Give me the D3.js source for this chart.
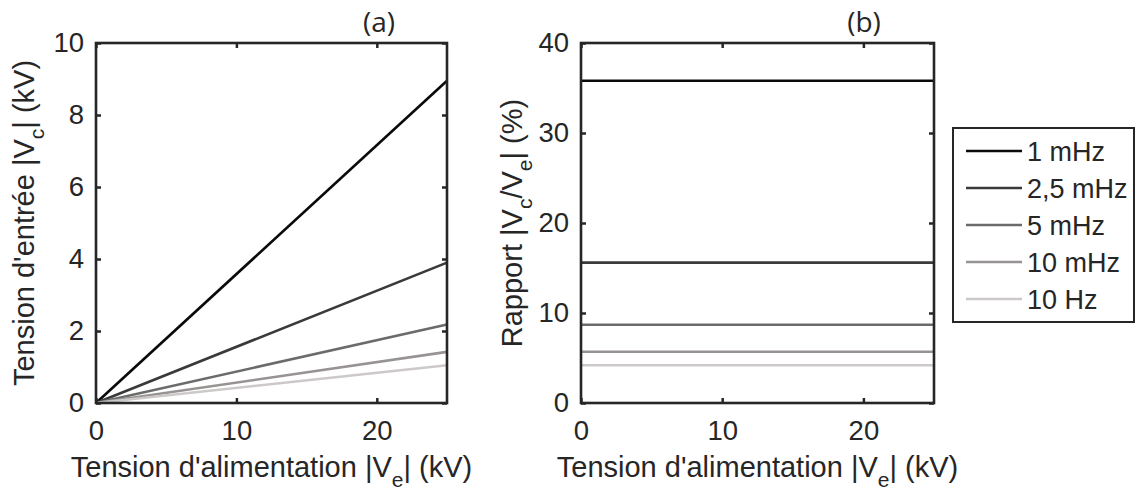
<!DOCTYPE html>
<html><head><meta charset="utf-8">
<script src="https://cdn.jsdelivr.net/npm/d3@7"></script>
<style>
html,body{margin:0;padding:0;background:#fff;}
svg text{font-family:"Liberation Sans",Arial,sans-serif;fill:#262626;}
</style></head>
<body><svg id="c" width="1136" height="490"></svg>
<script>
const series = ["1 mHz", "2,5 mHz", "5 mHz", "10 mHz", "10 Hz"];
const colors = ["#0a0a0a", "#3a3a3a", "#6b6b6b", "#979393", "#cdc9c9"];
const xValues = [0, 25];
const vcAtEnd = [8.95, 3.9, 2.18, 1.42, 1.05];     // kV at Ve = 25 kV
const ratioPct = [35.8, 15.6, 8.7, 5.7, 4.2];     // %
const xTicks = [0, 10, 20];
const yTicksA = [0, 2, 4, 6, 8, 10];
const yTicksB = [0, 10, 20, 30, 40];

const svg = d3.select("#c");
const axisCol = "#262626";
const FT = 27.5, FL = 29, FS = 21;

function panel(x0, x1, y0, y1, yDomain, yTicks, lines, title, titleX, ylabelParts, ylabelX) {
  const x = d3.scaleLinear().domain([0, 25]).range([x0, x1]);
  const y = d3.scaleLinear().domain(yDomain).range([y1, y0]);
  const g = svg.append("g");
  const line = d3.line().x(d => x(d[0])).y(d => y(d[1]));
  lines.forEach((pts, i) => {
    g.append("path").attr("d", line(pts)).attr("fill", "none")
      .attr("stroke", colors[i]).attr("stroke-width", 2.6);
  });
  const tl = 5;
  g.append("g").attr("transform", `translate(0,${y1})`)
    .call(d3.axisBottom(x).tickValues(xTicks).tickSizeInner(-tl).tickSizeOuter(0).tickPadding(17))
    .call(s => s.select(".domain").remove());
  g.append("g").attr("transform", `translate(0,${y0})`)
    .call(d3.axisTop(x).tickValues(xTicks).tickSizeInner(-tl).tickSizeOuter(0).tickFormat(""))
    .call(s => s.select(".domain").remove());
  g.append("g").attr("transform", `translate(${x0},0)`)
    .call(d3.axisLeft(y).tickValues(yTicks).tickSizeInner(-tl).tickSizeOuter(0).tickPadding(12))
    .call(s => s.select(".domain").remove());
  g.append("g").attr("transform", `translate(${x1},0)`)
    .call(d3.axisRight(y).tickValues(yTicks).tickSizeInner(-tl).tickSizeOuter(0).tickFormat(""))
    .call(s => s.select(".domain").remove());
  g.selectAll(".tick line").attr("stroke", axisCol).attr("stroke-width", 2.5);
  g.selectAll(".tick text").attr("font-size", FT).attr("fill", axisCol)
    .style("font-family", '"Liberation Sans",Arial,sans-serif');
  g.append("rect").attr("x", x0).attr("y", y0).attr("width", x1 - x0).attr("height", y1 - y0)
    .attr("fill", "none").attr("stroke", axisCol).attr("stroke-width", 2.6);
  g.append("text").attr("x", titleX).attr("y", 32).attr("text-anchor", "middle")
    .attr("font-size", 28).style("font-family", '"Open Sans",sans-serif').text(title);
  const xl = g.append("text").attr("x", (x0 + x1) / 2).attr("y", 477).attr("text-anchor", "middle").attr("font-size", FL);
  xl.append("tspan").text("Tension d'alimentation |V");
  xl.append("tspan").attr("font-size", FS).attr("dy", 10).text("e");
  xl.append("tspan").attr("dy", -10).text("| (kV)");
  const yl = g.append("text").attr("transform", `translate(${ylabelX},${(y0 + y1) / 2}) rotate(-90)`)
    .attr("text-anchor", "middle").attr("font-size", FL);
  ylabelParts.forEach(p => {
    if (p.sub) yl.append("tspan").attr("font-size", FS).attr("dy", 10).text(p.t);
    else yl.append("tspan").attr("dy", p.after ? -10 : 0).text(p.t);
  });
  return {x, y};
}

const linesA = vcAtEnd.map(v => xValues.map(xv => [xv, v * xv / 25]));
const linesB = ratioPct.map(v => xValues.map(xv => [xv, v]));

panel(96, 447, 43, 403, [0, 10], yTicksA, linesA, "(a)", 379,
  [{t: "Tension d'entrée |V"}, {t: "c", sub: true}, {t: "| (kV)", after: true}], 34);
panel(581, 934, 43, 403, [0, 40], yTicksB, linesB, "(b)", 864,
  [{t: "Rapport |V"}, {t: "c", sub: true}, {t: "/V", after: true}, {t: "e", sub: true}, {t: "| (%)", after: true}], 522);

const lg = svg.append("g");
lg.append("rect").attr("x", 953).attr("y", 128).attr("width", 181).attr("height", 194)
  .attr("fill", "#fff").attr("stroke", axisCol).attr("stroke-width", 2);
const ly = d3.scalePoint().domain(series).range([151, 299]);
series.forEach((s, i) => {
  lg.append("line").attr("x1", 966).attr("x2", 1022).attr("y1", ly(s)).attr("y2", ly(s))
    .attr("stroke", colors[i]).attr("stroke-width", 2.6);
  lg.append("text").attr("x", 1027).attr("y", ly(s)).attr("dy", "0.36em")
    .attr("font-size", 27).text(s);
});
</script></body></html>
